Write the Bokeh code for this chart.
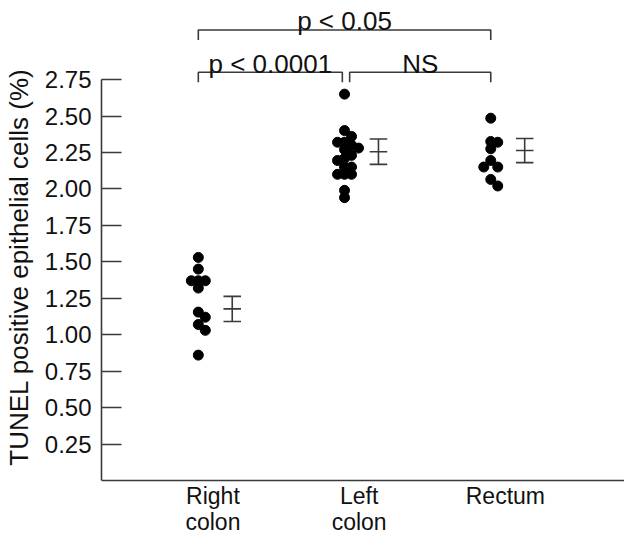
import numpy as np
from bokeh.plotting import figure
from bokeh.models import FixedTicker, Range1d, Span
from bokeh.embed import file_html
from bokeh.resources import INLINE
from bokeh.core.properties import value

# ---------------- data ----------------
categories = ["Right\ncolon", "Left\ncolon", "Rectum"]
right_colon = [1.53, 1.45, 1.37, 1.37, 1.37, 1.32, 1.155, 1.12, 1.07, 1.03, 0.86]
left_colon = [2.65, 2.40, 2.36, 2.32, 2.32, 2.30, 2.28, 2.27, 2.23, 2.21, 2.195,
              2.15, 2.15, 2.10, 2.10, 2.10, 1.99, 1.94]
rectum = [2.485, 2.325, 2.32, 2.275, 2.195, 2.15, 2.15, 2.065, 2.02]
group_means = [1.177, 2.255, 2.263]
group_sems = [0.086, 0.087, 0.083]
y_ticks = [0.25, 0.50, 0.75, 1.00, 1.25, 1.50, 1.75, 2.00, 2.25, 2.50, 2.75]
y_tick_labels = ["0.25", "0.50", "0.75", "1.00", "1.25", "1.50", "1.75",
                 "2.00", "2.25", "2.50", "2.75"]
bracket_from = [0, 0, 1]
bracket_to = [2, 1, 2]
bracket_level = [3.09, 2.80, 2.80]
bracket_text = ["p < 0.05", "p < 0.0001", "NS"]
y_label = "TUNEL positive epithelial cells (%)"

# ---------------- layout ----------------
W, H = 624, 533
left_b = 100
frame_w, frame_h = W - left_b, H
zero_px = 480.0            # px from frame top where y = 0 sits
px_y = 145.8               # px per y unit
y_end = zero_px / px_y
y_start = -(frame_h - zero_px) / px_y
px_x = 146.5
x_start = 1 - 97 / px_x
x_end = x_start + frame_w / px_x

positions = [1, 2, 3]
FONT = "Liberation Sans"
INK = "#111111"
LINE = "#3a3a3a"


def swarm(vals, center, min_px=7.0, step_px=7.0):
    placed, xs = [], []
    cands = [0]
    for n in range(1, 12):
        cands += [n, -n]
    for v in vals:
        y = v * px_y
        x = 0.0
        for c in cands:
            x = c * step_px
            if all((x - a) ** 2 + (y - b) ** 2 >= min_px ** 2 - 1e-6 for a, b in placed):
                break
        placed.append((x, y))
        xs.append(center + x / px_x)
    return xs


p = figure(width=W, height=H, x_range=Range1d(x_start, x_end),
           y_range=Range1d(y_start, y_end), output_backend="svg",
           toolbar_location=None, min_border_left=left_b, min_border_right=0,
           min_border_top=0, min_border_bottom=0)
p.outline_line_color = None
p.xgrid.visible = False
p.ygrid.visible = False
p.xaxis.visible = False
p.background_fill_color = "white"
p.border_fill_color = "white"

# baseline (x axis line)
p.add_layout(Span(location=0, dimension="width", line_color=LINE, line_width=1.6))

# points
for vals, pos in zip([right_colon, left_colon, rectum], positions):
    xs = swarm(vals, pos)
    p.scatter(xs, vals, size=10, color="black", line_color="black")

# mean +/- SEM bars
eb_off, cap = 0.232, 0.06
ex = [pos + eb_off for pos in positions]
lo = [m - s for m, s in zip(group_means, group_sems)]
hi = [m + s for m, s in zip(group_means, group_sems)]
p.segment(ex, lo, ex, hi, line_color=LINE, line_width=1.6)
for ys in (lo, hi, group_means):
    p.segment([x - cap for x in ex], ys, [x + cap for x in ex], ys,
              line_color=LINE, line_width=1.6)

# significance brackets
drop = 10 / px_y
for i, j, lev, txt in zip(bracket_from, bracket_to, bracket_level, bracket_text):
    x0 = positions[i] + (0.035 if i == 1 else 0.0)
    x1 = positions[j] - (0.015 if j == 1 else 0.0)
    p.line([x0, x0, x1, x1], [lev - drop, lev, lev, lev - drop],
           line_color=LINE, line_width=1.6)
    p.text([(x0 + x1) / 2], [lev + 8.5 / px_y], text=[txt], text_align="center",
           text_baseline="alphabetic", text_font=value(FONT),
           text_font_size="26px", text_color=INK)

# category labels under the baseline
lab_off = 0.1
p.text([pos + lab_off for pos in positions], [-2 / px_y] * 3, text=categories,
       text_align="center", text_baseline="top", text_font=value(FONT),
       text_font_size="23px", text_color=INK, text_line_height=1.0)

# y axis
yax = p.yaxis[0]
yax.bounds = (0, 2.75)
yax.ticker = FixedTicker(ticks=y_ticks)
yax.major_label_overrides = {t: l for t, l in zip(y_ticks, y_tick_labels)}
yax.major_tick_in = 20
yax.major_tick_out = 0
yax.minor_tick_line_color = None
yax.axis_line_color = LINE
yax.axis_line_width = 1.6
yax.major_tick_line_color = LINE
yax.major_tick_line_width = 1.6
yax.major_label_standoff = 10
yax.major_label_text_font = FONT
yax.major_label_text_font_size = "24px"
yax.major_label_text_color = INK
yax.axis_label = y_label
yax.axis_label_text_font = FONT
yax.axis_label_text_font_size = "26px"
yax.axis_label_text_font_style = "normal"
yax.axis_label_text_color = INK
yax.axis_label_standoff = 8

open("out.html", "w").write(file_html(p, INLINE))
